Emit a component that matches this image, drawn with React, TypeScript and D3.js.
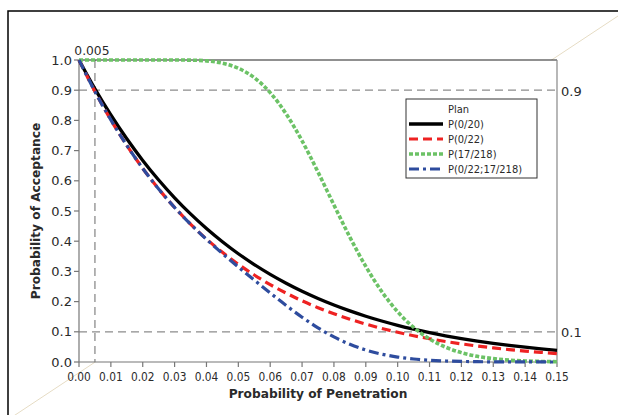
import React from "react";
import * as d3 from "d3";

const penetration = [0, 0.005, 0.01, 0.015, 0.02, 0.025, 0.03, 0.035, 0.04, 0.045, 0.05, 0.055, 0.06, 0.065, 0.07, 0.075, 0.08, 0.085, 0.09, 0.095, 0.1, 0.105, 0.11, 0.115, 0.12, 0.125, 0.13, 0.135, 0.14, 0.145, 0.15];
const p0of20 = [1, 0.9046, 0.8179, 0.7391, 0.6676, 0.6027, 0.5438, 0.4904, 0.442, 0.3982, 0.3585, 0.3226, 0.2901, 0.2608, 0.2342, 0.2103, 0.1887, 0.1692, 0.1516, 0.1358, 0.1216, 0.1088, 0.0972, 0.0869, 0.0776, 0.0692, 0.0617, 0.055, 0.049, 0.0436, 0.0388];
const p0of22 = [1, 0.8956, 0.8016, 0.7171, 0.6412, 0.5729, 0.5117, 0.4567, 0.4073, 0.3631, 0.3235, 0.2881, 0.2563, 0.228, 0.2026, 0.1799, 0.1597, 0.1417, 0.1256, 0.1112, 0.0985, 0.0871, 0.077, 0.068, 0.0601, 0.053, 0.0467, 0.0411, 0.0362, 0.0319, 0.028];
const p17of218 = [1, 1, 1, 1, 1, 1, 1, 0.9995, 0.9971, 0.9895, 0.9726, 0.9414, 0.8918, 0.8216, 0.7322, 0.629, 0.52, 0.4134, 0.3165, 0.2335, 0.1663, 0.1145, 0.0763, 0.0493, 0.031, 0.0188, 0.0111, 0.0063, 0.0035, 0.0019, 0.001];
const pCombined = [1, 0.8956, 0.8016, 0.7171, 0.6412, 0.5729, 0.5117, 0.4565, 0.4061, 0.3593, 0.3146, 0.2712, 0.2286, 0.1873, 0.1483, 0.1132, 0.083, 0.0586, 0.0398, 0.026, 0.0164, 0.01, 0.0059, 0.0034, 0.0019, 0.001, 0.0005, 0.0003, 0.0001, 0.0001, 0];

const seriesNames = ["P(0/20)", "P(0/22)", "P(17/218)", "P(0/22;17/218)"];
const xTicks = [0, 0.01, 0.02, 0.03, 0.04, 0.05, 0.06, 0.07, 0.08, 0.09, 0.1, 0.11, 0.12, 0.13, 0.14, 0.15];
const yTicks = [0, 0.1, 0.2, 0.3, 0.4, 0.5, 0.6, 0.7, 0.8, 0.9, 1.0];
const refLevels = [0.9, 0.1];
const refPenetration = 0.005;

const styles = [
  { color: "#000000", width: 3.3, dash: "none" },
  { color: "#ee2222", width: 3.2, dash: "9,5" },
  { color: "#6cc266", width: 3.6, dash: "4,2" },
  { color: "#2e4c9e", width: 3.2, dash: "10,4,3,4" },
];

const SANS = "'DejaVu Sans', Verdana, sans-serif";
const COND = "'DejaVu Sans Condensed', 'DejaVu Sans', sans-serif";
const TXT = "#2a2a2a";

export default function App() {
  const left = 79, right = 557, top = 60, bottom = 362;
  const x = d3.scaleLinear().domain([0, 0.15]).range([left, right]);
  const y = d3.scaleLinear().domain([0, 1]).range([bottom, top]);
  const allSeries = [p0of20, p0of22, p17of218, pCombined];
  const line = d3
    .line<number>()
    .x((_, i) => x(penetration[i]))
    .y((d) => y(d))
    .curve(d3.curveMonotoneX);

  const legendX = 406, legendY = 99, legendW = 131, legendH = 79;
  const rowY = [124, 139, 154, 169];

  return (
    <svg
      width={618}
      height={415}
      style={{ position: "absolute", left: 0, top: 0, background: "#fff" }}
      fontFamily={SANS}
    >
      <rect x={0} y={0} width={618} height={415} fill="#fff" />
      <line x1={0} y1={425} x2={618} y2={16} stroke="#e6dcc4" strokeWidth={1} />
      <rect x={8} y={11} width={700} height={500} fill="none" stroke="#000" strokeWidth={1.5} />
      <rect x={left} y={top} width={right - left} height={bottom - top} fill="#fff" />

      {/* reference lines */}
      {refLevels.map((r) => (
        <line key={r} x1={left} x2={right} y1={y(r)} y2={y(r)} stroke="#8c8c8c" strokeWidth={1.3} strokeDasharray="8,5" />
      ))}
      <line x1={x(refPenetration)} x2={x(refPenetration)} y1={top} y2={bottom} stroke="#8c8c8c" strokeWidth={1.3} strokeDasharray="8,5" />

      {/* frame */}
      <line x1={left} x2={right} y1={top} y2={top} stroke="#222" strokeWidth={1.2} />
      <line x1={right} x2={right} y1={top} y2={bottom} stroke="#888" strokeWidth={1.2} />
      <line x1={left} x2={left} y1={top} y2={bottom} stroke="#777" strokeWidth={1.2} />
      <line x1={left} x2={right} y1={bottom} y2={bottom} stroke="#777" strokeWidth={1.2} />

      {/* ticks */}
      {yTicks.map((t) => (
        <g key={"y" + t}>
          <line x1={left - 5} x2={left} y1={y(t)} y2={y(t)} stroke="#777" strokeWidth={1.2} />
          <text x={72} y={y(t)} dy="0.36em" textAnchor="end" fontSize={13} fill={TXT}>
            {t.toFixed(1)}
          </text>
        </g>
      ))}
      {xTicks.map((t) => (
        <g key={"x" + t}>
          <line x1={x(t)} x2={x(t)} y1={bottom} y2={bottom + 5} stroke="#777" strokeWidth={1.2} />
          <text x={x(t)} y={bottom + 19} textAnchor="middle" fontSize={11.8} fontFamily={COND} fill={TXT}>
            {t.toFixed(2)}
          </text>
        </g>
      ))}

      {/* series */}
      {allSeries.map((s, i) => (
        <path
          key={seriesNames[i]}
          d={line(s) || ""}
          fill="none"
          stroke={styles[i].color}
          strokeWidth={styles[i].width}
          strokeDasharray={styles[i].dash}
        />
      ))}

      {/* annotations */}
      <text x={x(refPenetration) - 3} y={55} textAnchor="middle" fontSize={12.3} fill={TXT}>0.005</text>
      {refLevels.map((r) => (
        <text key={"r" + r} x={right + 4} y={y(r)} dy="0.42em" fontSize={13} fill={TXT}>
          {r.toFixed(1)}
        </text>
      ))}

      {/* axis titles */}
      <text x={318} y={398} textAnchor="middle" fontSize={12.2} fontWeight="bold" fill={TXT}>
        Probability of Penetration
      </text>
      <text
        transform={`translate(40,${(top + bottom) / 2}) rotate(-90)`}
        textAnchor="middle"
        fontSize={12.2}
        fontWeight="bold"
        fill={TXT}
      >
        Probability of Acceptance
      </text>

      {/* legend */}
      <rect x={legendX} y={legendY} width={legendW} height={legendH} fill="#fff" stroke="#333" strokeWidth={1} />
      <text x={448} y={109} dy="0.35em" fontSize={11} fontFamily={COND} fill={TXT}>Plan</text>
      {seriesNames.map((n, i) => (
        <g key={"l" + n}>
          <line
            x1={409}
            x2={443}
            y1={rowY[i]}
            y2={rowY[i]}
            stroke={styles[i].color}
            strokeWidth={styles[i].width}
            strokeDasharray={styles[i].dash}
          />
          <text x={448} y={rowY[i]} dy="0.35em" fontSize={11} fontFamily={COND} fill={TXT}>
            {n}
          </text>
        </g>
      ))}
    </svg>
  );
}
